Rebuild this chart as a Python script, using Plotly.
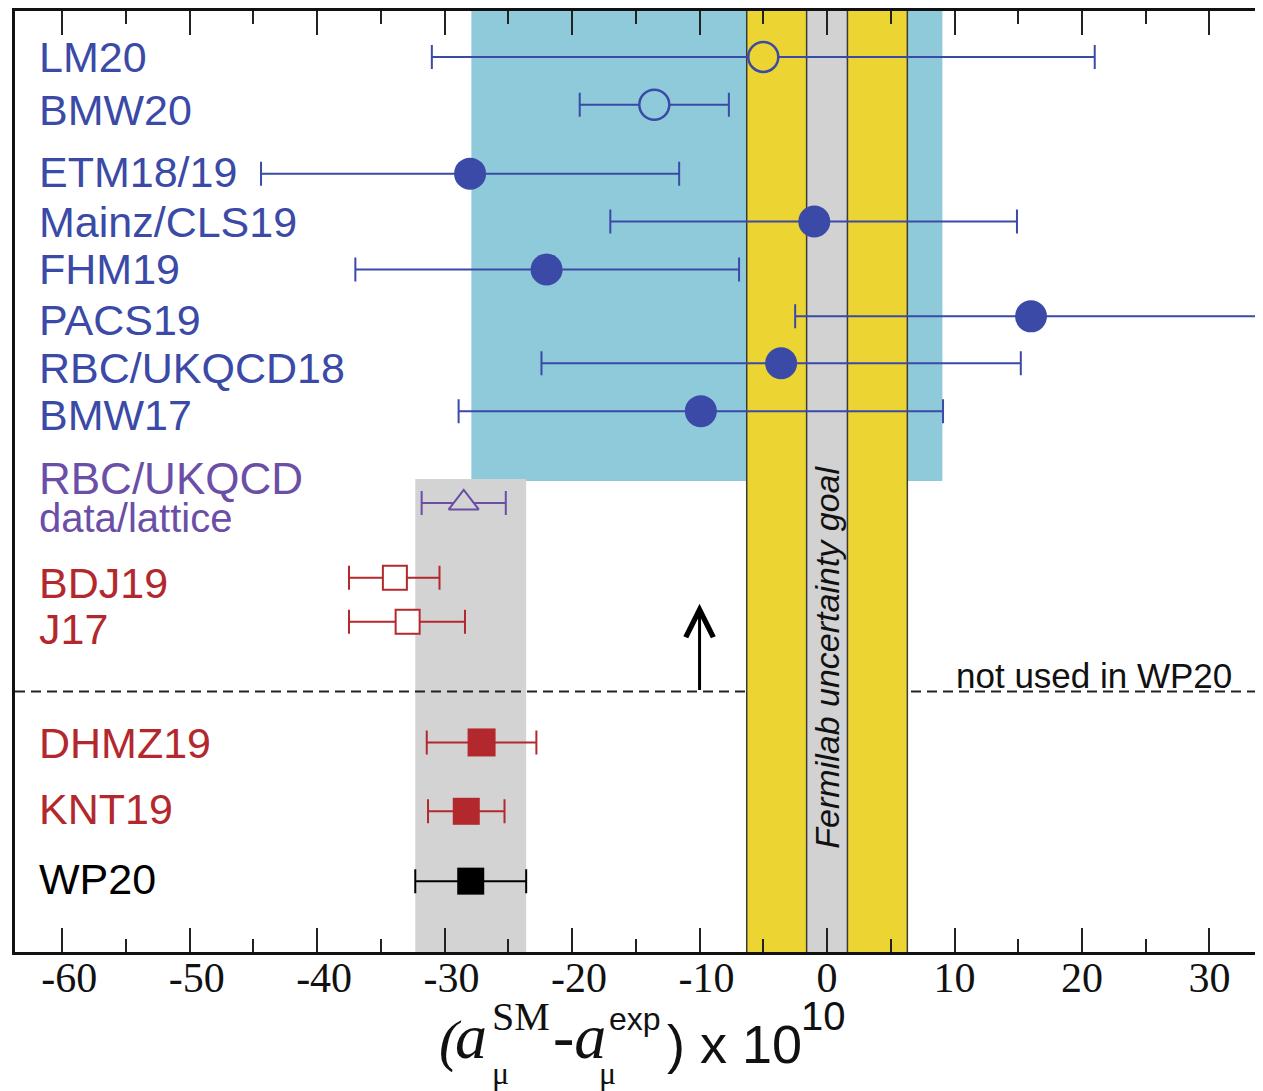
import plotly.graph_objects as go

# ---------------- data ----------------
names = ["LM20", "BMW20", "ETM18/19", "Mainz/CLS19", "FHM19", "PACS19",
         "RBC/UKQCD18", "BMW17", "RBC/UKQCD", "BDJ19", "J17",
         "DHMZ19", "KNT19", "WP20"]
values = [-5.0, -13.55, -28.0, -1.0, -22.0, 16.0, -3.6, -9.9,
          -28.5, -33.9, -32.9, -27.1, -28.3, -27.95]
err_minus = [26.0, 5.85, 16.4, 16.0, 15.0, 18.5, 18.8, 19.0,
             3.3, 3.6, 4.6, 4.3, 3.0, 4.35]
err_plus = [26.0, 5.85, 16.4, 15.9, 15.1, 18.5, 18.8, 19.0,
            3.3, 3.5, 4.5, 4.3, 3.0, 4.35]
lattice_band = [-27.9, 9.05]          # cyan band
fnal_outer = 6.3                       # yellow band half-width
fnal_inner = 1.6                       # grey band half-width
arrow_x = -10.0
x_range = [-63.7, 34.2]
tick_vals = [-60, -50, -40, -30, -20, -10, 0, 10, 20, 30]
tick_text = [("\u2004" + str(v)) if v < 0 else str(v) for v in tick_vals]

# ---------------- layout (page offset of 8px from the html body margin) ----
OFF = 8
W, H = 1263 - OFF, 1091 - OFF
PL, PT, PB, PR = 15, 9, 952, 1263        # plot box in page pixels
PW, PH = PR - PL, PB - PT

row_y = [55, 103, 172, 220, 268, 315, 362, 410, 502, 577, 621, 742, 811, 881]
dash_y = 691

BLUE = "#3a4aa6"
PURPLE = "#6b4ea6"
RED = "#b3282d"
BLACK = "#000000"
CYAN = "#8fcadb"
LGREY = "#d3d3d3"
YELLOW = "#ecd432"
FGREY = "#d2d2d2"

styles = [
    dict(c=BLUE, sym="circle", fill=YELLOW, size=30, lw=2.5),
    dict(c=BLUE, sym="circle", fill=CYAN, size=30, lw=2.5),
    dict(c=BLUE, sym="circle", fill=BLUE, size=32, lw=0),
    dict(c=BLUE, sym="circle", fill=BLUE, size=32, lw=0),
    dict(c=BLUE, sym="circle", fill=BLUE, size=32, lw=0),
    dict(c=BLUE, sym="circle", fill=BLUE, size=32, lw=0),
    dict(c=BLUE, sym="circle", fill=BLUE, size=32, lw=0),
    dict(c=BLUE, sym="circle", fill=BLUE, size=32, lw=0),
    dict(c=PURPLE, sym="triangle-up", fill=LGREY, size=26, lw=2),
    dict(c=RED, sym="square", fill="white", size=24, lw=2),
    dict(c=RED, sym="square", fill="white", size=24, lw=2),
    dict(c=RED, sym="square", fill=RED, size=28, lw=0),
    dict(c=RED, sym="square", fill=RED, size=27, lw=0),
    dict(c=BLACK, sym="square", fill=BLACK, size=27, lw=0),
]
label_sizes = [43, 43, 43, 43, 43, 43, 43, 43, 44, 43, 43, 43, 43, 43]

fig = go.Figure()

for i, n in enumerate(names):
    s = styles[i]
    fig.add_trace(go.Scatter(
        x=[values[i]], y=[row_y[i]], mode="markers", name=n,
        showlegend=False,
        marker=dict(symbol=s["sym"], size=s["size"], color=s["fill"],
                    line=dict(color=s["c"], width=s["lw"])),
        error_x=dict(type="data", symmetric=False,
                     array=[err_plus[i]], arrayminus=[err_minus[i]],
                     color=s["c"], thickness=2, width=12),
    ))

wp_lo = values[-1] - err_minus[-1]
wp_hi = values[-1] + err_plus[-1]

shapes = [
    dict(type="rect", xref="x", yref="y", x0=lattice_band[0], x1=lattice_band[1],
         y0=PT, y1=480, fillcolor=CYAN, line_width=0, layer="below"),
    dict(type="rect", xref="x", yref="y", x0=wp_lo, x1=wp_hi,
         y0=478, y1=PB, fillcolor=LGREY, line_width=0, layer="below"),
    dict(type="line", xref="x", yref="y", x0=x_range[0], x1=x_range[1],
         y0=dash_y, y1=dash_y,
         line=dict(color="#222222", width=2, dash="10px,6px"), layer="below"),
    dict(type="rect", xref="x", yref="y", x0=-fnal_outer, x1=fnal_outer,
         y0=PT, y1=PB, fillcolor=YELLOW, line_width=0, layer="below"),
    dict(type="rect", xref="x", yref="y", x0=-fnal_inner, x1=fnal_inner,
         y0=PT, y1=PB, fillcolor=FGREY, line_width=0, layer="below"),
]
for xv in [-fnal_outer, -fnal_inner, fnal_inner, fnal_outer]:
    shapes.append(dict(type="line", xref="x", yref="y", x0=xv, x1=xv,
                       y0=PT, y1=PB, line=dict(color="#3a3a3a", width=1.5),
                       layer="below"))

annotations = []


def px(x):
    return (x - PL) / PW


def py(y):
    return (PB - y) / PH


SERIF = "Liberation Serif, Times New Roman"
SANS = "Liberation Sans, Arial"

# row labels
label_y = [55, 108, 170, 220, 268, 319, 367, 414, 477, 582, 628, 743, 809, 879]
for i, n in enumerate(names):
    annotations.append(dict(
        text=n, xref="paper", yref="paper", x=px(37), y=py(label_y[i]),
        xanchor="left", yanchor="middle", showarrow=False,
        font=dict(family=SANS, size=label_sizes[i], color=styles[i]["c"])))
annotations.append(dict(
    text="data/lattice", xref="paper", yref="paper", x=px(37), y=py(517),
    xanchor="left", yanchor="middle", showarrow=False,
    font=dict(family=SANS, size=40, color=PURPLE)))

annotations.append(dict(
    text="not used in WP20", xref="paper", yref="paper", x=px(954), y=py(675),
    xanchor="left", yanchor="middle", showarrow=False,
    font=dict(family=SANS, size=35, color="#111111")))

annotations.append(dict(
    text="<i>Fermilab uncertainty goal</i>", xref="x", yref="paper", x=0, y=py(657),
    xanchor="center", yanchor="middle", showarrow=False, textangle=-90,
    font=dict(family=SANS, size=34, color="#111111")))

annotations.append(dict(
    x=arrow_x, y=603, ax=arrow_x, ay=dash_y, xref="x", yref="y",
    axref="x", ayref="y", showarrow=True, arrowhead=5, arrowsize=1.8,
    arrowwidth=3, arrowcolor="#000000", text=""))

title_parts = [
    ("<i>(</i>", SERIF, 58, 450, 1041),
    ("<i>a</i>", SERIF, 64, 471, 1037),
    ("SM", SERIF, 40, 521, 1017),
    ("μ", SERIF, 32, 500, 1073),
    ("-<i>a</i>", SERIF, 64, 579, 1037),
    ("exp", SANS, 32, 635, 1019),
    ("μ", SERIF, 32, 607, 1073),
    (") x 10", SANS, 54, 735, 1044),
    ("10", SANS, 40, 823, 1016),
]
for t, fam, fs, x, y in title_parts:
    annotations.append(dict(
        text=t, xref="paper", yref="paper", x=px(x), y=py(y),
        xanchor="center", yanchor="middle", showarrow=False,
        font=dict(family=fam, size=fs, color="#111111")))

fig.update_layout(
    width=W, height=H,
    margin=dict(l=PL - OFF, r=0, t=PT - OFF, b=(1091 - PB), pad=0),
    paper_bgcolor="white", plot_bgcolor="white",
    shapes=shapes, annotations=annotations, showlegend=False,
    xaxis=dict(range=x_range, showgrid=False, zeroline=False,
               showline=True, linecolor="#111111", linewidth=2.5,
               mirror="ticks", ticks="inside", ticklen=24, tickwidth=2,
               tickcolor="#222222", tickvals=tick_vals, ticktext=tick_text,
               tickfont=dict(family=SERIF, size=42, color="#111111"),
               ticklabelstandoff=-13,
               minor=dict(dtick=5, tick0=0, ticks="inside", ticklen=13,
                          tickwidth=2, tickcolor="#222222", showgrid=False)),
    yaxis=dict(range=[PB, PT], showgrid=False, zeroline=False, showline=True,
               linecolor="#111111", linewidth=2.5, showticklabels=False,
               ticks="", mirror=False),
)

fig.write_html("out.html")
